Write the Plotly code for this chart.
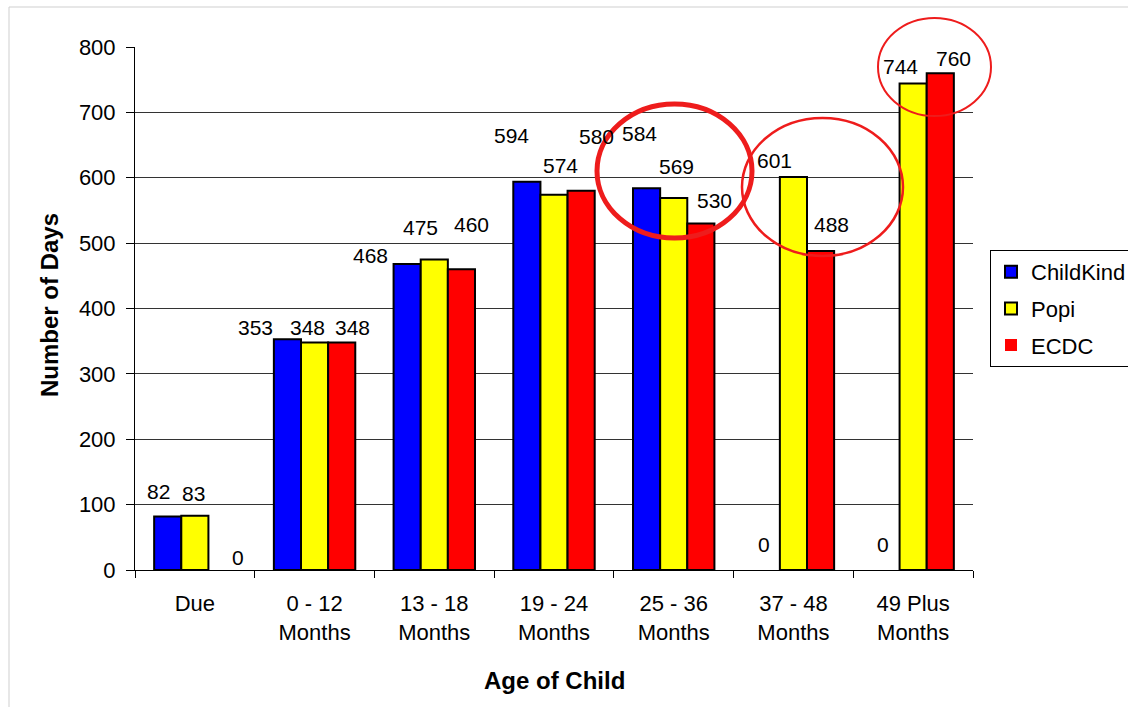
import plotly.graph_objects as go

# ---- data -------------------------------------------------------------
categories = ["Due", "0 - 12<br>Months", "13 - 18<br>Months", "19 - 24<br>Months",
              "25 - 36<br>Months", "37 - 48<br>Months", "49 Plus<br>Months"]
series_names = ["ChildKind", "Popi", "ECDC"]
childkind = [82, 353, 468, 594, 584, 0, 0]
popi = [83, 348, 475, 574, 569, 601, 744]
ecdc = [0, 348, 460, 580, 530, 488, 760]
y_tick_values = [0, 100, 200, 300, 400, 500, 600, 700, 800]

# ---- styling / layout constants ---------------------------------------
W, H = 1128, 707
PL, PR, PT, PB = 135, 973, 47, 570          # plot area in pixels
BARGAP = 0.32
colors = {"ChildKind": "#0000ff", "Popi": "#ffff00", "ECDC": "#ff0000"}
FONT = "Arial, Liberation Sans, sans-serif"

# value-label nudges (pixels) relative to the top centre of each bar
label_dx = {"ChildKind": [-9, -32, -37, -15, -7, -2, -3],
            "Popi":      [-1, -7, -14, 6, 3, -19, -13],
            "ECDC":      [16, 11, 10, 15, 14, 11, 13]}
label_dy = {"ChildKind": [25, 12, 9, 46, 55, 26, 26],
            "Popi":      [22, 15, 32, 29, 32, 17, 17],
            "ECDC":      [13, 15, 45, 54, 23, 26, 15]}

values = {"ChildKind": childkind, "Popi": popi, "ECDC": ecdc}

fig = go.Figure()
for name in series_names:
    vals = values[name]
    fig.add_trace(go.Bar(
        name=name, x=categories, y=vals,
        marker=dict(color=colors[name],
                    line=dict(color="black", width=[2 if v else 0 for v in vals])),
        legendgroup=name,
        hoverinfo="x+y+name",
    ))

# value labels
cat_px = (PR - PL) / len(categories)
bar_px = cat_px * (1 - BARGAP) / len(series_names)
annotations = []
for si, name in enumerate(series_names):
    for ci, cat in enumerate(categories):
        v = values[name][ci]
        annotations.append(dict(
            x=cat, y=v, xref="x", yref="y", text=str(v), showarrow=False,
            xanchor="center", yanchor="middle",
            xshift=(si - 1) * bar_px + label_dx[name][ci],
            yshift=label_dy[name][ci],
            font=dict(family=FONT, size=21, color="black"),
        ))

# axis titles
annotations.append(dict(
    text="<b>Number of Days</b>", textangle=-90, showarrow=False,
    xref="paper", yref="paper", x=(49 - PL) / (PR - PL), y=(PB - 305) / (PB - PT),
    xanchor="center", yanchor="middle",
    font=dict(family=FONT, size=24, color="black"),
))
annotations.append(dict(
    text="<b>Age of Child</b>", showarrow=False,
    xref="paper", yref="paper", x=0.5, y=(PB - 680) / (PB - PT),
    xanchor="center", yanchor="middle",
    font=dict(family=FONT, size=24, color="black"),
))


def px_x(p):
    return (p - PL) / (PR - PL)


def px_y(p):
    return (PB - p) / (PB - PT)


shapes = [
    # light chart-area frame
    dict(type="rect", xref="paper", yref="paper",
         x0=px_x(9), x1=px_x(W + 20), y0=px_y(H + 20), y1=px_y(7),
         line=dict(color="#cfcfcf", width=1), layer="below"),
    # highlight ellipses
    dict(type="circle", xref="paper", yref="paper",
         x0=px_x(597), x1=px_x(752), y0=px_y(238), y1=px_y(104),
         line=dict(color="#ee1c1c", width=5)),
    dict(type="circle", xref="paper", yref="paper",
         x0=px_x(742), x1=px_x(903), y0=px_y(256), y1=px_y(118),
         line=dict(color="#ee1c1c", width=2.5)),
    dict(type="circle", xref="paper", yref="paper",
         x0=px_x(878), x1=px_x(991), y0=px_y(116), y1=px_y(18),
         line=dict(color="#ee1c1c", width=2)),
]

fig.update_layout(
    width=W, height=H,
    margin=dict(l=PL, r=W - PR, t=PT, b=H - PB, autoexpand=False),
    paper_bgcolor="white", plot_bgcolor="white",
    barmode="group", bargap=BARGAP, bargroupgap=0,
    font=dict(family=FONT, size=22, color="black"),
    showlegend=True,
    legend=dict(
        x=px_x(990), y=px_y(250), xanchor="left", yanchor="top",
        bordercolor="black", borderwidth=1, bgcolor="white",
        font=dict(family=FONT, size=22, color="black"),
        tracegroupgap=5, traceorder="grouped",
    ),
    annotations=annotations,
    shapes=shapes,
)

fig.update_xaxes(
    type="category", showgrid=False, showline=True, linecolor="black", linewidth=1,
    ticks="outside", tickson="boundaries", ticklen=7, tickcolor="black",
    ticklabelstandoff=14, tickfont=dict(family=FONT, size=22, color="black"),
    zeroline=False,
)
fig.update_yaxes(
    range=[0, 800], tickvals=y_tick_values, showgrid=True, gridcolor="#333333",
    gridwidth=1, showline=True, linecolor="black", linewidth=1,
    ticks="outside", ticklen=8, tickcolor="black", ticklabelstandoff=6,
    tickfont=dict(family=FONT, size=22, color="black"), zeroline=False,
)

fig.write_html("out.html")
